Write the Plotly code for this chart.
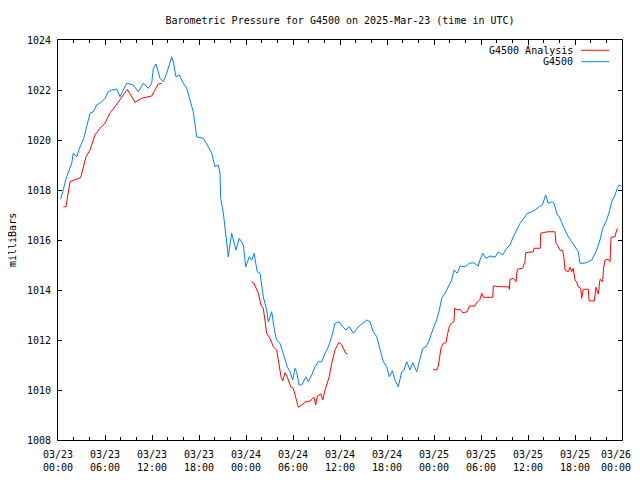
import pandas as pd
import plotly.graph_objects as go

# ---- data (hours since 2025-03-23 00:00 UTC, pressure in mb) ----
g4500_hours = [0.34, 0.68, 1.11, 1.75, 1.95, 2.39, 2.81, 3.23, 3.66, 4.09, 4.51, 4.94, 5.58, 6.0,
               6.42, 6.86, 7.49, 7.91, 8.34, 8.77, 9.61, 10.25, 10.89, 11.53, 11.96, 12.17, 12.51,
               13.02, 13.44, 13.88, 14.51, 14.72, 15.06, 15.49, 16.0, 16.43, 16.85, 17.27, 17.71,
               18.55, 19.19, 19.62, 20.04, 20.46, 20.68, 20.77, 21.11, 21.32, 21.54, 21.74, 22.17,
               22.72, 23.14, 23.66, 23.96, 24.42, 24.73, 25.02, 25.44, 25.79, 26.21, 26.64, 26.85,
               27.28, 27.70, 27.92, 28.34, 28.76, 29.27, 29.62, 29.96, 30.26, 30.47, 30.77, 31.11,
               31.66, 31.95, 32.39, 32.81, 33.23, 33.66, 34.09, 34.51, 34.94, 35.36, 35.91, 36.34,
               36.77, 37.19, 37.70, 38.34, 38.90, 39.41, 39.83, 40.25, 40.69, 41.11, 41.53, 41.96,
               42.29, 42.68, 43.02, 43.44, 43.88, 44.17, 44.51, 44.94, 45.28, 45.79, 46.21, 46.56,
               46.98, 47.40, 47.83, 48.34, 48.68, 48.98, 49.40, 49.83, 50.26, 50.55, 50.97, 51.32,
               51.96, 52.51, 53.02, 53.66, 53.87, 54.22, 54.64, 55.15, 55.79, 56.21, 56.77, 57.28,
               57.70, 58.12, 58.56, 58.98, 59.49, 59.91, 60.47, 60.89, 61.44, 61.83, 62.26, 62.59,
               63.03, 63.32, 63.66, 64.09, 64.43, 64.72, 65.14, 65.58, 66.0, 66.42, 66.64, 67.15,
               67.70, 68.13, 68.68, 69.19, 69.54, 70.04, 70.38, 70.68, 71.11, 71.40, 71.66, 71.94]
g4500_mb = [1017.63, 1018.0, 1018.53, 1019.07, 1019.47, 1019.33, 1019.73, 1020.0, 1020.53, 1021.07,
            1021.13, 1021.4, 1021.53, 1021.67, 1021.93, 1022.0, 1022.03, 1021.73, 1022.0, 1022.27,
            1022.2, 1021.93, 1022.27, 1022.07, 1022.27, 1022.87, 1023.04, 1022.47, 1022.33, 1022.67,
            1023.33, 1023.13, 1022.53, 1022.6, 1022.27, 1022.07, 1021.6, 1021.13, 1020.13, 1020.07,
            1019.73, 1019.47, 1018.93, 1019.0, 1018.67, 1017.67, 1017.07, 1016.53, 1015.73, 1015.33,
            1016.27, 1015.6, 1016.07, 1015.8, 1014.93, 1015.33, 1015.2, 1015.47, 1014.73, 1014.67,
            1013.73, 1013.2, 1012.73, 1013.13, 1012.27, 1012.0, 1011.87, 1011.47, 1010.93, 1010.73,
            1010.4, 1010.87, 1010.73, 1010.2, 1010.2, 1010.53, 1010.33, 1010.6, 1010.93, 1011.13,
            1011.13, 1011.47, 1011.73, 1012.13, 1012.67, 1012.73, 1012.53, 1012.4, 1012.53, 1012.27,
            1012.53, 1012.67, 1012.8, 1012.73, 1012.33, 1012.13, 1011.68, 1011.13, 1010.93, 1010.53,
            1010.77, 1010.4, 1010.13, 1010.73, 1010.8, 1011.13, 1010.8, 1011.09, 1010.73, 1011.2,
            1011.67, 1011.73, 1012.0, 1012.4, 1012.8, 1013.2, 1013.67, 1013.87, 1014.13, 1014.4,
            1014.8, 1014.67, 1014.96, 1014.93, 1015.07, 1015.09, 1014.96, 1015.2, 1015.47, 1015.27,
            1015.36, 1015.31, 1015.53, 1015.4, 1015.67, 1015.8, 1016.13, 1016.4, 1016.67, 1016.87,
            1017.07, 1017.13, 1017.2, 1017.33, 1017.4, 1017.8, 1017.47, 1017.53, 1017.47, 1017.07,
            1016.87, 1016.6, 1016.4, 1016.13, 1015.93, 1015.73, 1015.53, 1015.07, 1015.07, 1015.13,
            1015.2, 1015.53, 1016.0, 1016.47, 1016.8, 1017.13, 1017.53, 1017.8, 1018.07, 1018.2,
            1018.16]

# Analysis series: None marks gaps between analysis segments
analysis_hours = [0.68, 1.02, 1.53, 2.17, 2.90, 3.57, 4.09, 4.72, 5.36, 6.0, 6.64, 7.28, 7.70, 8.34,
                  8.85, 9.83, 10.69, 11.96, 12.80, 13.24, 18.0,
                  24.73, 25.02, 25.57, 25.91, 26.21, 26.43, 26.64, 27.06, 27.49, 27.92, 28.21, 28.47,
                  28.68, 28.98, 29.27, 29.71, 30.04, 30.34, 30.68, 31.11, 31.66, 32.17, 32.68, 32.90,
                  33.10, 33.54, 33.79, 34.09, 34.63, 34.94, 35.36, 35.87, 36.22, 36.73, 36.98, 42.0,
                  47.91, 48.34, 48.55, 48.68, 48.89, 49.19, 49.53, 49.70, 49.95, 50.26, 50.55, 50.64,
                  50.97, 51.32, 51.66, 52.25, 52.51, 53.23, 53.45, 53.87, 54.09, 54.29, 54.64, 55.49,
                  55.57, 56.51, 57.53, 57.62, 57.70, 58.12, 58.47, 58.63, 59.32, 59.62, 59.70, 60.67,
                  60.77, 61.57, 61.62, 62.47, 63.45, 63.57, 63.87, 64.09, 64.43, 64.60, 64.72, 65.14,
                  65.36, 65.58, 65.78, 66.0, 66.21, 66.42, 66.73, 66.85, 67.06, 67.70, 67.79, 68.47,
                  68.68, 68.98, 69.19, 69.54, 69.62, 69.83, 70.26, 70.47, 70.60, 71.11, 71.32, 71.49]
analysis_mb = [1017.33, 1017.33, 1018.33, 1018.4, 1018.5, 1019.33, 1019.6, 1020.2, 1020.47, 1020.67,
               1021.09, 1021.33, 1021.53, 1021.8, 1022.03, 1021.51, 1021.67, 1021.76, 1022.24, 1022.27,
               None,
               1014.31, 1014.27, 1013.87, 1013.4, 1013.27, 1012.8, 1012.27, 1012.07, 1011.73, 1011.6,
               1011.07, 1010.53, 1010.36, 1010.69, 1010.53, 1010.13, 1010.07, 1009.73, 1009.31, 1009.4,
               1009.53, 1009.56, 1009.71, 1009.4, 1009.76, 1009.84, 1009.6, 1010.0, 1010.53, 1011.07,
               1011.6, 1011.91, 1011.8, 1011.47, 1011.44, None,
               1010.83, 1010.8, 1010.96, 1011.33, 1011.67, 1011.87, 1011.89, 1012.2, 1012.53, 1012.69,
               1012.73, 1013.27, 1013.2, 1013.23, 1013.09, 1013.13, 1013.36, 1013.36, 1013.49, 1013.63,
               1013.87, 1013.71, 1013.71, 1013.71, 1014.16, 1014.13, 1014.13, 1014.03, 1014.43, 1014.47,
               1014.33, 1014.83, 1014.87, 1015.13, 1015.49, 1015.53, 1015.67, 1015.67, 1016.27, 1016.33,
               1016.33, 1015.87, 1015.73, 1015.6, 1015.57, 1015.27, 1014.8, 1014.73, 1014.91, 1014.73,
               1014.87, 1014.4, 1014.33, 1014.13, 1014.07, 1013.67, 1014.03, 1014.03, 1013.57, 1013.56,
               1014.11, 1013.84, 1014.43, 1014.33, 1014.8, 1015.2, 1015.23, 1015.13, 1016.11, 1016.13,
               1016.4, 1016.47]

tick_hours = [0, 6, 12, 18, 24, 30, 36, 42, 48, 54, 60, 66, 72]
tick_labels = ["03/23<br>00:00", "03/23<br>06:00", "03/23<br>12:00", "03/23<br>18:00",
               "03/24<br>00:00", "03/24<br>06:00", "03/24<br>12:00", "03/24<br>18:00",
               "03/25<br>00:00", "03/25<br>06:00", "03/25<br>12:00", "03/25<br>18:00",
               "03/26<br>00:00"]
y_ticks = [1008, 1010, 1012, 1014, 1016, 1018, 1020, 1022, 1024]

start = pd.Timestamp("2025-03-23 00:00")
def to_time(hours):
    return [start + pd.Timedelta(hours=h) for h in hours]

FONT = "DejaVu Sans Mono"
RED = "#ff0000"
BLUE = "#0080ff"

# The page body adds an 8 px margin and clips at its width, so the figure is 624x464.
W, H = 624, 464

fig = go.Figure()
fig.add_trace(go.Scatter(x=to_time(analysis_hours), y=analysis_mb, mode="lines",
                         name="G4500 Analysis", line=dict(color=RED, width=1),
                         connectgaps=False))
fig.add_trace(go.Scatter(x=to_time(g4500_hours), y=g4500_mb, mode="lines",
                         name="G4500", line=dict(color=BLUE, width=1)))

fig.update_layout(
    width=W, height=H,
    margin=dict(l=50, r=10, t=32, b=32, autoexpand=False),
    paper_bgcolor="white", plot_bgcolor="white",
    showlegend=False,
    font=dict(family=FONT, size=10, color="black"),
    title=dict(text="Barometric Pressure for G4500 on 2025-Mar-23 (time in UTC)",
               xref="paper", x=0.5, xanchor="center", y=1 - 12 / H, yanchor="middle",
               automargin=False,
               font=dict(family=FONT, size=10, color="black")),
)
# last tick label would run past the page edge; it is drawn as an annotation flush right
shown_labels = tick_labels[:-1] + [""]
fig.update_xaxes(
    type="date", automargin=False,
    range=[start, start + pd.Timedelta(hours=72)],
    tickvals=to_time(tick_hours), ticktext=shown_labels,
    ticks="inside", ticklen=5, tickcolor="black", tickwidth=1,
    minor=dict(dtick=2 * 3600 * 1000, tick0=start, ticks="inside", ticklen=3,
               tickcolor="black", tickwidth=1, showgrid=False),
    showline=True, linecolor="black", linewidth=1, mirror="ticks",
    showgrid=False, zeroline=False,
    tickfont=dict(family=FONT, size=10, color="black"),
    ticklabelstandoff=5, ticklabeloverflow="allow",
)
fig.update_yaxes(
    range=[1008, 1024], tickvals=y_ticks, automargin=False,
    ticks="inside", ticklen=4, tickcolor="black", tickwidth=1,
    showline=True, linecolor="black", linewidth=1, mirror="ticks",
    showgrid=False, zeroline=False,
    tickfont=dict(family=FONT, size=10, color="black"),
    ticklabelstandoff=4, ticklabeloverflow="allow",
)
fig.add_annotation(text=tick_labels[-1], xref="paper", yref="paper",
                   x=(632 - 58) / 564, y=0, xanchor="right", yanchor="top", yshift=-8,
                   align="center", showarrow=False, borderpad=0,
                   font=dict(family=FONT, size=10, color="black"))

# y-axis label
fig.add_annotation(text="milliBars", xref="paper", yref="paper",
                   x=(12 - 58) / 564, y=0.5, xanchor="center", yanchor="middle",
                   textangle=-90, showarrow=False, font=dict(family=FONT, size=10))

# gnuplot-style legend: text then sample line
legend_items = [("G4500 Analysis", RED), ("G4500", BLUE)]
for i, (label, color) in enumerate(legend_items):
    yp = 1 - (50.3 + 11.4 * i - 40) / 400
    fig.add_annotation(text=label, xref="paper", yref="paper",
                       x=(575 - 58) / 564, y=yp, xanchor="right", yanchor="middle",
                       showarrow=False, font=dict(family=FONT, size=10))
    fig.add_shape(type="line", xref="paper", yref="paper",
                  x0=(581 - 58) / 564, x1=(609 - 58) / 564, y0=yp, y1=yp,
                  line=dict(color=color, width=1))

fig.write_html("out.html")
